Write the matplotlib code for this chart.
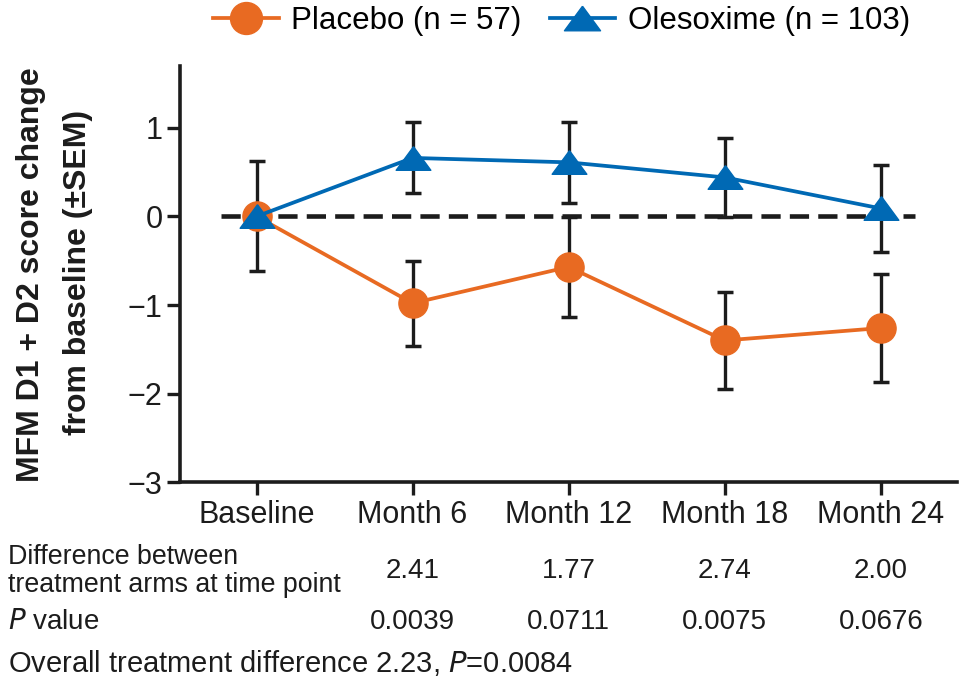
import matplotlib

matplotlib.use("Agg")

import matplotlib.pyplot as plt
import matplotlib.transforms as mtransforms
from matplotlib.lines import Line2D

plt.rcParams["font.family"] = ["Liberation Sans", "DejaVu Sans"]

# Datos
visitas = ["Baseline", "Month 6", "Month 12", "Month 18", "Month 24"]
placebo = [0.0, -0.98, -0.57, -1.40, -1.26]
placebo_sem = [0.62, 0.48, 0.56, 0.55, 0.61]
olesoxime = [0.0, 0.66, 0.61, 0.44, 0.09]
olesoxime_sem = [0.0, 0.40, 0.46, 0.45, 0.49]

diferencias = ["2.41", "1.77", "2.74", "2.00"]
p_valores = ["0.0039", "0.0711", "0.0075", "0.0676"]

NARANJA = "#E86A22"
AZUL = "#0069B4"
NEGRO = "#1c1c1c"
FS_TICK = 22
FS_LEY = 22.5
FS_TAB = 20

# triángulo más ancho que alto, como en el original
TRIANGULO = [(0, 0.68), (-1, -0.68), (1, -0.68), (0, 0.68)]

fig = plt.figure(figsize=(9.63, 6.85), dpi=100)
ax = fig.add_axes([0.187, 0.296, 0.807, 0.608])

x = list(range(len(visitas)))

ax.plot([-0.23, 4.22], [0, 0], color=NEGRO, lw=3.3, dashes=(4.2, 2.0), zorder=1)

# Barras de error (solo una en baseline)
ax.errorbar(x, placebo, yerr=placebo_sem, fmt="none", ecolor=NEGRO,
            elinewidth=2.4, capsize=6, capthick=2.5, zorder=2)
ax.errorbar(x[1:], olesoxime[1:], yerr=olesoxime_sem[1:], fmt="none",
            ecolor=NEGRO, elinewidth=2.4, capsize=6, capthick=2.5, zorder=2)

ax.plot(x, placebo, color=NARANJA, lw=2.7, marker="o", ms=21, zorder=3)
ax.plot(x, olesoxime, color=AZUL, lw=2.7, marker=TRIANGULO, ms=25, zorder=4)

ax.set_xlim(-0.49, 4.49)
ax.set_ylim(-3, 1.7)
ax.set_yticks([1, 0, -1, -2, -3])
ax.set_yticklabels(["1", "0", "\u22121", "\u22122", "\u22123"])
ax.set_xticks(x)
ax.set_xticklabels(visitas)
for s in ["top", "right"]:
    ax.spines[s].set_visible(False)
for s in ["left", "bottom"]:
    ax.spines[s].set_linewidth(2.6)
    ax.spines[s].set_color(NEGRO)
ax.tick_params(axis="both", length=9.5, width=2.4, color=NEGRO,
               labelsize=FS_TICK, labelcolor=NEGRO, pad=3)

fig.text(0.032, 0.599, "MFM D1 + D2 score change", rotation=90, ha="center",
         va="center", fontsize=23, fontweight="bold", color=NEGRO)
fig.text(0.081, 0.602, "from baseline (\u00b1SEM)", rotation=90, ha="center",
         va="center", fontsize=23, fontweight="bold", color=NEGRO)

# Leyenda
handles = [
    Line2D([], [], color=NARANJA, lw=2.7, marker="o", ms=23),
    Line2D([], [], color=AZUL, lw=2.7, marker=TRIANGULO, ms=26),
]
fig.legend(handles, ["Placebo (n = 57)", "Olesoxime (n = 103)"],
           loc="center", bbox_to_anchor=(0.583, 0.970), ncol=2, frameon=False,
           fontsize=FS_LEY, handlelength=2.1, columnspacing=0.9,
           handletextpad=0.4, borderpad=0)

# Tabla inferior
trans = mtransforms.blended_transform_factory(ax.transData, fig.transFigure)
fig.text(0.008, 0.166, "Difference between\ntreatment arms at time point",
         fontsize=19.3, va="center", ha="left", linespacing=1.1, color=NEGRO)
fig.text(0.008, 0.092, "$\\it{P}$ value", fontsize=FS_TAB, va="center",
         ha="left", color=NEGRO)
for i, (d, p) in enumerate(zip(diferencias, p_valores), start=1):
    ax.text(i, 0.166, d, transform=trans, fontsize=FS_TAB, ha="center",
            va="center", color=NEGRO)
    ax.text(i, 0.092, p, transform=trans, fontsize=FS_TAB, ha="center",
            va="center", color=NEGRO)
fig.text(0.008, 0.032, "Overall treatment difference 2.23, $\\it{P}$=0.0084",
         fontsize=21, va="center", ha="left", color=NEGRO)

fig.savefig("out.png", dpi=100)
